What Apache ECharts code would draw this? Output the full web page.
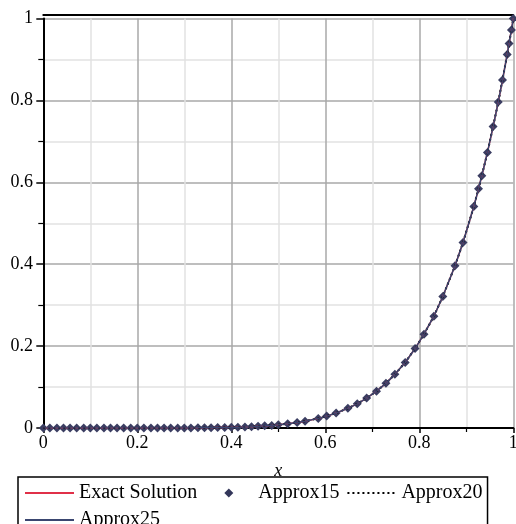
<!DOCTYPE html>
<html><head><meta charset="utf-8">
<script src="https://cdn.jsdelivr.net/npm/echarts@6/dist/echarts.min.js"></script>
<style>html,body{margin:0;padding:0;background:#fff}#c{width:516px;height:524px}</style>
</head><body><div id="c"></div>
<script>
const xValues = [0,0.014,0.029,0.043,0.057,0.071,0.086,0.1,0.114,0.129,0.143,0.157,0.171,0.186,0.2,0.214,0.229,0.243,0.257,0.271,0.286,0.3,0.314,0.329,0.343,0.357,0.371,0.386,0.4,0.414,0.429,0.443,0.457,0.471,0.486,0.5,0.52,0.54,0.557,0.585,0.603,0.623,0.648,0.668,0.688,0.709,0.729,0.748,0.77,0.791,0.81,0.831,0.85,0.876,0.893,0.916,0.926,0.933,0.945,0.957,0.968,0.977,0.987,0.991,0.996,1];
const exactValues = [0,0,0,0,0,0,0,0,0,0,0,0,0,0,0,0,0,0,0,0,0,0.0002,0.0003,0.0004,0.0006,0.0007,0.001,0.0013,0.0016,0.002,0.0027,0.0033,0.0042,0.0052,0.0064,0.0078,0.0103,0.0134,0.0166,0.0235,0.029,0.0365,0.048,0.059,0.073,0.09,0.109,0.131,0.16,0.194,0.229,0.273,0.321,0.396,0.453,0.541,0.584,0.616,0.673,0.736,0.796,0.85,0.912,0.939,0.972,1];
const approx15 = exactValues.slice();
const approx20 = exactValues.slice();
const approx25 = exactValues.slice();
const seriesNames = ['Exact Solution','Approx15','Approx20','Approx25'];
const xTicks = [0,0.2,0.4,0.6,0.8,1];
const yTicks = [0,0.2,0.4,0.6,0.8,1];

const pairs = ys => xValues.map((x,i)=>[x, ys[i]]);
const font = '"Liberation Serif","DejaVu Serif",serif';
const chart = echarts.init(document.getElementById('c'));
const fmt = v => { const r = Math.round(v*10)/10; return String(r); };
const diamondIcon = 'path://M0,5L0,5M49,5L49,5M24.5,0.5L29,5L24.5,9.5L20,5Z';
chart.setOption({
  animation:false,
  grid:{left:43.3,right:2.7,top:18.5,bottom:96,outerBoundsMode:'none',containLabel:false},
  xAxis:[{
    type:'value',min:xTicks[0],max:xTicks[xTicks.length-1],interval:0.2,offset:3.5,
    axisLine:{show:true,lineStyle:{color:'#000',width:2}},
    axisTick:{show:true,length:5,lineStyle:{color:'#000',width:1.5}},
    minorTick:{show:true,splitNumber:2,length:4,lineStyle:{color:'#000',width:1.2}},
    splitLine:{show:true,lineStyle:{color:'#a8a8a8',width:1.5}},
    minorSplitLine:{show:true,lineStyle:{color:'#e2e2e2',width:1.5}},
    axisLabel:{fontFamily:font,fontSize:18,color:'#000',margin:3,formatter:fmt,showMaxLabel:true,showMinLabel:true},
    name:'x',nameLocation:'middle',nameGap:31,
    nameTextStyle:{fontFamily:font,fontStyle:'italic',fontSize:18,color:'#000'}
  },{
    type:'value',position:'top',min:0,max:1,offset:3.5,
    axisLine:{show:true,lineStyle:{color:'#000',width:2}},
    axisTick:{show:false},axisLabel:{show:false},splitLine:{show:false}
  }],
  yAxis:{
    type:'value',min:yTicks[0],max:yTicks[yTicks.length-1],interval:0.2,offset:3.3,
    axisLine:{show:true,lineStyle:{color:'#000',width:2}},
    axisTick:{show:true,length:7,lineStyle:{color:'#000',width:1.5}},
    minorTick:{show:true,splitNumber:2,length:5,lineStyle:{color:'#000',width:1.2}},
    splitLine:{show:true,lineStyle:{color:'#a8a8a8',width:1.5}},
    minorSplitLine:{show:true,lineStyle:{color:'#e2e2e2',width:1.5}},
    axisLabel:{fontFamily:font,fontSize:18,color:'#000',margin:7,formatter:fmt}
  },
  legend:{
    left:18,top:477,width:470,orient:'horizontal',
    padding:[6,5,6,6],itemGap:7,itemWidth:49,itemHeight:10,
    borderColor:'#000',borderWidth:1.5,backgroundColor:'#fff',
    textStyle:{fontFamily:font,fontSize:20,lineHeight:16,color:'#000'},
    data:[
      {name:seriesNames[0],itemStyle:{opacity:0}},
      {name:seriesNames[1],icon:diamondIcon,itemStyle:{opacity:1,color:'#33365a'}},
      {name:seriesNames[2],itemStyle:{opacity:0}},
      {name:seriesNames[3],itemStyle:{opacity:0}}
    ]
  },
  series:[
    {name:seriesNames[0],type:'line',data:pairs(exactValues),symbol:'none',color:'#e03048',lineStyle:{color:'#e03048',width:1.5}},
    {name:seriesNames[1],type:'scatter',data:pairs(approx15),symbol:'diamond',symbolSize:9,color:'#3b3e62',itemStyle:{color:'#3b3e62',opacity:1}},
    {name:seriesNames[2],type:'line',data:pairs(approx20),symbol:'none',color:'#000',lineStyle:{color:'#000',width:2,type:[2,3]}},
    {name:seriesNames[3],type:'line',data:pairs(approx25),symbol:'none',color:'#3a4670',lineStyle:{color:'#3a4670',width:1.5}}
  ]
});
</script></body></html>
